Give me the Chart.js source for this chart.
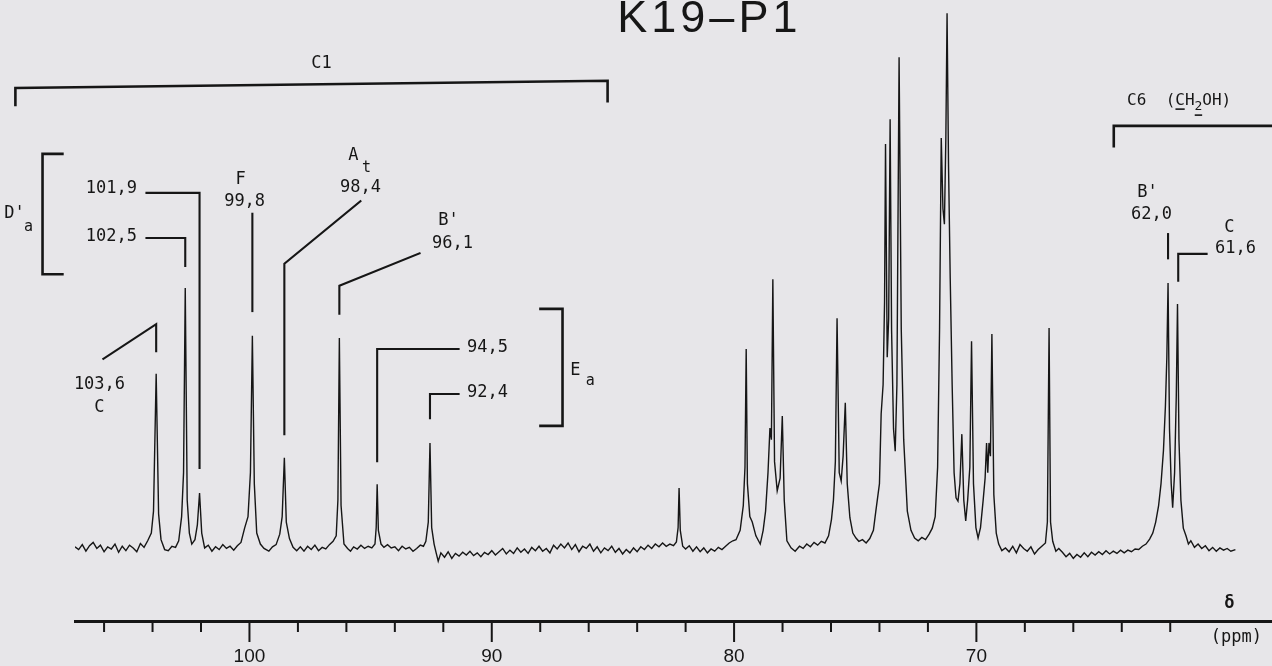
<!DOCTYPE html>
<html>
<head>
<meta charset="utf-8">
<title>K19-P1</title>
<script src="https://cdn.jsdelivr.net/npm/chart.js@4.4.1/dist/chart.umd.min.js"></script>
<style>
    html, body { margin: 0; padding: 0; background: #e7e6e9; }
    #wrap { width: 1272px; height: 666px; position: relative; }
</style>
</head>
<body>
<div id="wrap"><canvas id="spectrum-chart"></canvas></div>
<script>
// 13C spectrum trace: [ppm, relative intensity]
const spectrumPoints = [
    [107.20, 0.5], [107.05, 0.0], [106.9, 0.9], [106.75, -0.3], [106.6, 0.7], [106.45, 1.3], [106.3, 0.2], [106.15, 0.8],
    [106.0, -0.4], [105.85, 0.5], [105.7, 0.1], [105.55, 1.0], [105.4, -0.5], [105.25, 0.6], [105.1, -0.2], [104.95, 0.8],
    [104.8, 0.3], [104.65, -0.4], [104.5, 1.1], [104.35, 0.4], [104.2, 1.6], [104.05, 3.0], [103.96, 7.0], [103.85, 32.0],
    [103.75, 6.5], [103.65, 1.8], [103.5, 0.0], [103.35, -0.2], [103.2, 0.6], [103.05, 0.4], [102.92, 1.6], [102.8, 6.0],
    [102.72, 14.0], [102.65, 47.6], [102.57, 9.0], [102.48, 3.0], [102.38, 1.0], [102.25, 1.8], [102.15, 4.5], [102.06, 10.3],
    [101.97, 3.0], [101.85, 0.3], [101.7, 0.8], [101.55, -0.3], [101.4, 0.5], [101.25, 0.0], [101.1, 0.9], [100.95, 0.2],
    [100.8, 0.6], [100.65, -0.1], [100.5, 0.7], [100.35, 1.3], [100.2, 3.9], [100.06, 6.0], [99.96, 14.0], [99.88, 38.9],
    [99.8, 12.0], [99.7, 3.0], [99.55, 1.0], [99.4, 0.2], [99.2, -0.3], [99.05, 0.5], [98.9, 0.9], [98.75, 2.8],
    [98.65, 6.0], [98.56, 16.7], [98.48, 5.0], [98.35, 2.0], [98.2, 0.4], [98.05, -0.2], [97.9, 0.5], [97.75, -0.3],
    [97.6, 0.6], [97.45, 0.0], [97.3, 0.8], [97.15, -0.2], [97.0, 0.4], [96.85, 0.1], [96.7, 0.9], [96.55, 1.5],
    [96.42, 2.5], [96.35, 9.0], [96.29, 38.5], [96.22, 8.0], [96.1, 1.0], [95.95, 0.2], [95.83, -0.3], [95.7, 0.5],
    [95.55, 0.1], [95.4, 0.8], [95.25, 0.2], [95.1, 0.6], [94.95, 0.3], [94.82, 1.0], [94.77, 4.0], [94.73, 11.9],
    [94.68, 3.5], [94.57, 1.0], [94.45, 0.4], [94.3, 0.9], [94.15, 0.3], [94.0, 0.5], [93.85, -0.2], [93.7, 0.6],
    [93.55, 0.1], [93.4, 0.4], [93.25, -0.3], [93.1, 0.2], [92.95, 0.8], [92.82, 0.6], [92.72, 1.5], [92.62, 5.0],
    [92.55, 19.4], [92.48, 4.0], [92.38, 1.0], [92.3, -0.5], [92.21, -2.1], [92.1, -0.6], [91.95, -1.4], [91.8, -0.4],
    [91.65, -1.6], [91.5, -0.7], [91.35, -1.2], [91.2, -0.5], [91.05, -1.0], [90.9, -0.3], [90.75, -1.1], [90.6, -0.6],
    [90.45, -1.3], [90.3, -0.5], [90.15, -0.9], [90.0, -0.2], [89.85, -1.0], [89.7, -0.4], [89.55, 0.2], [89.4, -0.8],
    [89.25, -0.1], [89.1, -0.7], [88.95, 0.3], [88.8, -0.5], [88.65, 0.1], [88.5, -0.7], [88.35, 0.4], [88.2, -0.2],
    [88.05, 0.6], [87.9, -0.3], [87.75, 0.2], [87.6, -0.6], [87.45, 0.8], [87.3, 0.1], [87.15, 1.0], [87.0, 0.3],
    [86.85, 1.2], [86.7, 0.0], [86.55, 0.9], [86.4, -0.4], [86.25, 0.6], [86.1, 0.2], [85.95, 1.0], [85.8, -0.3],
    [85.65, 0.5], [85.5, -0.6], [85.35, 0.3], [85.2, -0.2], [85.05, 0.6], [84.9, -0.5], [84.75, 0.2], [84.6, -0.8],
    [84.45, 0.0], [84.3, -0.6], [84.15, 0.3], [84.0, -0.4], [83.85, 0.5], [83.7, 0.0], [83.55, 0.8], [83.4, 0.2],
    [83.25, 1.0], [83.1, 0.5], [82.95, 1.2], [82.8, 0.6], [82.65, 1.0], [82.5, 0.7], [82.38, 1.4], [82.31, 4.0],
    [82.27, 11.2], [82.22, 3.5], [82.12, 0.6], [82.0, 0.1], [81.85, 0.7], [81.7, -0.3], [81.55, 0.5], [81.4, -0.4],
    [81.25, 0.3], [81.1, -0.6], [80.95, 0.1], [80.8, -0.3], [80.65, 0.4], [80.5, 0.0], [80.35, 0.6], [80.2, 1.2],
    [80.05, 1.6], [79.92, 1.8], [79.75, 3.5], [79.62, 8.0], [79.55, 15.0], [79.50, 36.5], [79.45, 12.0], [79.35, 6.0],
    [79.25, 5.0], [79.1, 2.5], [78.92, 1.0], [78.8, 3.5], [78.7, 7.0], [78.6, 14.0], [78.52, 22.1], [78.46, 20.0],
    [78.40, 49.2], [78.33, 16.0], [78.22, 10.7], [78.1, 13.0], [78.01, 24.3], [77.93, 9.0], [77.82, 1.6], [77.65, 0.3],
    [77.48, -0.3], [77.3, 0.6], [77.15, 0.2], [77.0, 1.0], [76.85, 0.5], [76.7, 1.3], [76.55, 0.8], [76.4, 1.5],
    [76.25, 1.2], [76.1, 2.5], [75.98, 5.5], [75.9, 9.0], [75.82, 16.0], [75.75, 42.1], [75.66, 14.0], [75.58, 12.5],
    [75.5, 17.0], [75.41, 26.7], [75.33, 12.0], [75.22, 5.8], [75.1, 3.0], [74.97, 2.1], [74.85, 1.5], [74.7, 1.8],
    [74.55, 1.2], [74.4, 2.0], [74.25, 3.5], [74.15, 7.0], [74.0, 12.0], [73.93, 24.7], [73.85, 30.0], [73.79, 45.0],
    [73.75, 73.8], [73.68, 35.0], [73.62, 42.0], [73.56, 78.3], [73.5, 40.0], [73.42, 22.0], [73.35, 17.9], [73.28, 30.0],
    [73.19, 89.6], [73.1, 40.0], [73.0, 20.0], [72.85, 7.0], [72.7, 3.5], [72.55, 2.1], [72.4, 1.6], [72.25, 2.2],
    [72.1, 1.8], [71.95, 2.8], [71.82, 3.9], [71.7, 6.0], [71.6, 15.0], [71.52, 40.0], [71.45, 74.9], [71.38, 62.0],
    [71.32, 59.2], [71.26, 75.0], [71.21, 97.6], [71.15, 70.0], [71.08, 49.4], [71.0, 30.0], [70.92, 14.0], [70.84, 9.4],
    [70.76, 8.8], [70.68, 12.0], [70.6, 21.0], [70.52, 9.0], [70.44, 5.2], [70.36, 9.0], [70.27, 15.0], [70.2, 37.9],
    [70.12, 12.0], [70.02, 4.0], [69.93, 2.1], [69.83, 4.0], [69.72, 9.0], [69.64, 13.0], [69.58, 19.4], [69.53, 14.0],
    [69.48, 19.4], [69.42, 17.0], [69.36, 39.2], [69.28, 10.0], [69.18, 3.0], [69.08, 1.0], [68.95, -0.2], [68.8, 0.3],
    [68.65, -0.4], [68.5, 0.6], [68.35, -0.6], [68.2, 0.9], [68.05, 0.2], [67.9, -0.3], [67.75, 0.5], [67.6, -0.8],
    [67.45, 0.0], [67.3, 0.6], [67.15, 1.2], [67.07, 5.0], [67.0, 40.3], [66.94, 5.0], [66.85, 1.5], [66.72, -0.3],
    [66.6, 0.2], [66.45, -0.5], [66.3, -1.3], [66.15, -0.7], [66.0, -1.6], [65.85, -0.9], [65.7, -1.4], [65.55, -0.6],
    [65.4, -1.3], [65.25, -0.5], [65.1, -1.0], [64.95, -0.4], [64.8, -0.9], [64.65, -0.2], [64.5, -0.8], [64.35, -0.3],
    [64.2, -0.7], [64.05, -0.1], [63.9, -0.6], [63.75, -0.1], [63.6, -0.4], [63.45, 0.1], [63.3, 0.0], [63.15, 0.6],
    [63.0, 1.0], [62.85, 1.9], [62.72, 3.0], [62.6, 5.0], [62.48, 8.0], [62.38, 12.0], [62.28, 18.0], [62.2, 26.0],
    [62.14, 35.0], [62.09, 48.5], [62.03, 22.0], [61.96, 12.0], [61.9, 7.6], [61.82, 14.0], [61.75, 28.0], [61.7, 44.7],
    [61.64, 20.0], [61.56, 9.0], [61.46, 3.9], [61.35, 2.5], [61.25, 1.0], [61.15, 1.6], [61.0, 0.4], [60.85, 1.0],
    [60.7, 0.2], [60.55, 0.7], [60.4, -0.2], [60.25, 0.4], [60.1, -0.3], [59.95, 0.3], [59.8, -0.1], [59.65, 0.2],
    [59.5, -0.3], [59.31, 0.0]
];

// Axis ticks (ppm) and the ones that carry a label
const tickPpm = [106, 104, 102, 100, 98, 96, 94, 92, 90, 88, 86, 84, 82, 80, 78, 76, 74, 72, 70, 68, 66, 64, 62];
const majorTicks = [100, 90, 80, 70];

// Peak assignment texts: [text, ppm, intensity]
const peakLabels = [
    ['C1', 97.03, 88.5],
    ["D'", 109.70, 61.2],
    ['101,9', 105.70, 65.6],
    ['102,5', 105.70, 57.0],
    ['F', 100.37, 67.4],
    ['99,8', 100.20, 63.4],
    ['A', 95.71, 71.6],
    ['98,4', 95.42, 65.8],
    ["B'", 91.79, 59.8],
    ['96,1', 91.62, 55.6],
    ['103,6', 106.19, 30.1],
    ['C', 106.19, 25.8],
    ['94,5', 90.18, 36.7],
    ['92,4', 90.18, 28.5],
    ['E', 86.55, 32.5],
    ["B'", 62.94, 64.9],
    ['62,0', 62.77, 61.0],
    ['C', 59.56, 58.5],
    ['61,6', 59.31, 54.7]
];
const subscriptLabels = [['t', 95.17, 69.4], ['a', 109.12, 58.7], ['a', 85.93, 30.7]];

// Leader lines from labels to peaks, as [ppm, intensity] polylines
const leaderLines = [
    [[104.25, 64.9], [102.06, 64.9], [102.06, 14.85]],
    [[104.25, 56.7], [102.65, 56.7], [102.65, 51.6]],
    [[99.88, 61.1], [99.88, 43.4]],
    [[95.42, 63.4], [98.56, 52.0], [98.56, 21.0]],
    [[92.98, 53.9], [96.29, 48.0], [96.29, 42.9]],
    [[106.03, 34.7], [103.85, 41.0], [103.85, 36.1]],
    [[91.37, 36.5], [94.73, 36.5], [94.73, 16.1]],
    [[91.37, 28.3], [92.55, 28.3], [92.55, 23.9]],
    [[62.09, 57.4], [62.09, 53.0]],
    [[60.50, 53.8], [61.67, 53.8], [61.67, 48.9]]
];

// Group brackets
const bracketLines = [
    [[109.66, 80.9], [109.66, 84.0], [85.22, 85.3], [85.22, 81.6]],
    [[107.72, 72.0], [108.54, 72.0], [108.54, 50.1], [107.72, 50.1]],
    [[87.99, 43.8], [87.08, 43.8], [87.08, 22.5], [87.99, 22.5]],
    [[64.33, 73.4], [64.33, 77.1], [56.0, 77.1]]
];

const INK = '#161616';
const PAPER = '#e7e6e9';
const MONO = '"DejaVu Sans Mono", monospace';

// Paper background
const paperBackground = {
    id: 'paperBackground',
    beforeDraw(chart) {
        const ctx = chart.ctx;
        ctx.save();
        ctx.fillStyle = PAPER;
        ctx.fillRect(0, 0, chart.width, chart.height);
        ctx.restore();
    }
};

// Tick marks: long for labelled ppm values, short otherwise
const axisTicks = {
    id: 'axisTicks',
    afterDraw(chart) {
        const { ctx, scales: { x }, chartArea } = chart;
        ctx.save();
        ctx.strokeStyle = INK;
        ctx.lineWidth = 2;
        x.ticks.forEach(t => {
            const px = x.getPixelForValue(t.value);
            const len = majorTicks.includes(t.value) ? 21 : 11;
            ctx.beginPath();
            ctx.moveTo(px, chartArea.bottom);
            ctx.lineTo(px, chartArea.bottom + len);
            ctx.stroke();
        });
        ctx.restore();
    }
};

// Labels, leaders, brackets and title
const annotations = {
    id: 'annotations',
    afterDraw(chart) {
        const { ctx, scales: { x, y } } = chart;
        const X = v => x.getPixelForValue(v);
        const Y = v => y.getPixelForValue(v);

        ctx.save();
        ctx.strokeStyle = INK;
        ctx.fillStyle = INK;
        ctx.lineCap = 'square';

        const drawPath = (pts, width) => {
            ctx.lineWidth = width;
            ctx.beginPath();
            pts.forEach(([p, v], i) => i ? ctx.lineTo(X(p), Y(v)) : ctx.moveTo(X(p), Y(v)));
            ctx.stroke();
        };
        bracketLines.forEach(pts => drawPath(pts, 2.6));
        leaderLines.forEach(pts => drawPath(pts, 2.1));

        ctx.textAlign = 'center';
        ctx.textBaseline = 'middle';
        ctx.font = '17px ' + MONO;
        peakLabels.forEach(([txt, p, v]) => ctx.fillText(txt, X(p), Y(v)));
        ctx.font = '15px ' + MONO;
        subscriptLabels.forEach(([txt, p, v]) => ctx.fillText(txt, X(p), Y(v)));

        // C6 (CH2OH) with underlined C and subscript 2
        ctx.textAlign = 'left';
        ctx.font = '16px ' + MONO;
        let cx = X(63.78);
        const cy = Y(81.6);
        const head = 'C6  (';
        ctx.fillText(head, cx, cy);
        cx += ctx.measureText(head).width;
        const cw = ctx.measureText('C').width;
        ctx.fillText('CH', cx, cy);
        ctx.lineWidth = 1.6;
        ctx.beginPath();
        ctx.moveTo(cx + 1, cy + 8);
        ctx.lineTo(cx + cw - 1, cy + 8);
        ctx.stroke();
        cx += ctx.measureText('CH').width;
        ctx.font = '13px ' + MONO;
        const sw = ctx.measureText('2').width;
        ctx.fillText('2', cx, cy + 6);
        ctx.beginPath();
        ctx.moveTo(cx + 1, cy + 14);
        ctx.lineTo(cx + sw - 1, cy + 14);
        ctx.stroke();
        cx += sw;
        ctx.font = '16px ' + MONO;
        ctx.fillText('OH)', cx, cy);

        // axis unit
        ctx.textAlign = 'center';
        ctx.font = 'bold 17px ' + MONO;
        ctx.fillText('δ', X(59.56), Y(-9.9));
        ctx.font = '17px ' + MONO;
        ctx.fillText('(ppm)', X(59.27), Y(-16.1));

        // sample title
        ctx.font = '45px "Liberation Sans", Arial, sans-serif';
        if ('letterSpacing' in ctx) ctx.letterSpacing = '4px';
        ctx.fillText('K19–P1', X(81.02), Y(96.4));
        ctx.restore();
    }
};

function renderSpectrum() {
    const ctx = document.getElementById('spectrum-chart');
    if (!ctx) return;

    window.spectrumChart = new Chart(ctx, {
        type: 'line',
        data: {
            datasets: [{
                label: 'K19-P1',
                data: spectrumPoints.map(([p, v]) => ({ x: p, y: v })),
                borderColor: INK,
                borderWidth: 1.4,
                pointRadius: 0,
                tension: 0,
                fill: false
            }]
        },
        options: {
            responsive: true,
            maintainAspectRatio: false,
            animation: false,
            devicePixelRatio: 1,
            layout: { padding: { left: 75, right: 0, top: 0, bottom: 0 } },
            plugins: {
                legend: { display: false },
                tooltip: { enabled: false },
                title: { display: false }
            },
            scales: {
                x: {
                    type: 'linear',
                    reverse: true,
                    min: 57.8,
                    max: 107.2,
                    afterBuildTicks: axis => {
                        axis.ticks = tickPpm.map(v => ({ value: v }));
                    },
                    afterFit: axis => {
                        axis.height = 45;
                    },
                    ticks: {
                        autoSkip: false,
                        maxRotation: 0,
                        padding: 26,
                        color: INK,
                        font: { family: '"Liberation Sans", Arial, sans-serif', size: 19, lineHeight: 1 },
                        callback: value => majorTicks.includes(value) ? String(value) : ''
                    },
                    grid: { display: false, drawTicks: false },
                    border: { display: true, width: 3, color: INK }
                },
                y: {
                    type: 'linear',
                    display: false,
                    min: -13,
                    max: 100
                }
            }
        },
        plugins: [paperBackground, axisTicks, annotations]
    });
}

renderSpectrum();
</script>
</body>
</html>
